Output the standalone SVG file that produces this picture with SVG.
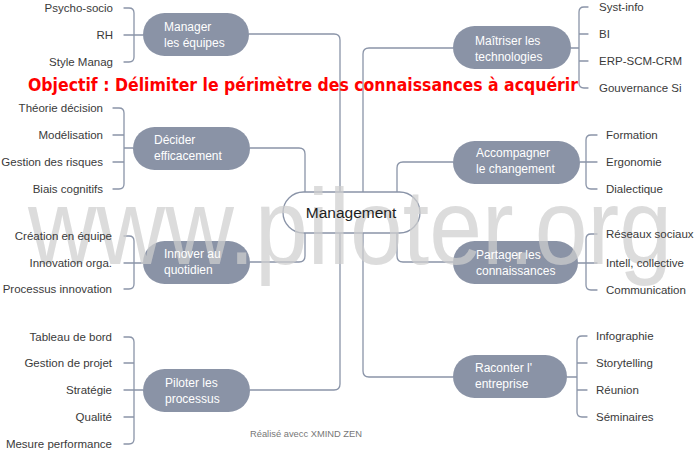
<svg xmlns="http://www.w3.org/2000/svg" width="700" height="453" viewBox="0 0 700 453">
<style>
.bg{fill:#ffffff}
.con{fill:none;stroke:#8a94a8;stroke-width:1.3;stroke-linecap:round}
.topic{fill:#8a93a6}
.tt{fill:#ffffff;font-family:"Liberation Sans",Arial,sans-serif;font-size:12px}
.sub{fill:#3a3a3a;font-family:"Liberation Sans",Arial,sans-serif;font-size:11.5px}
.r{text-anchor:end}
.center{fill:#ffffff;stroke:#8a94a8;stroke-width:1.3}
.ct{fill:#1e1e1e;font-family:"Liberation Sans",Arial,sans-serif;font-size:15.5px;text-anchor:middle}
.wm{fill:#cfcfcf;opacity:0.72;font-family:"Liberation Sans",Arial,sans-serif;font-size:107px}
.title{fill:#ff0000;font-family:"Comic Sans MS","DejaVu Sans",sans-serif;font-weight:bold;font-size:18px}
.foot{fill:#777777;font-family:"Liberation Sans",Arial,sans-serif;font-size:9px}
</style>
<rect class="bg" x="0" y="0" width="700" height="453"/>
<g id="connectors">
<path class="con" d="M249,34 H334 Q340,34 340,40 V192"/>
<path class="con" d="M250,148 H299 Q305,148 305,154 V192"/>
<path class="con" d="M250,262 H299 Q305,262 305,256 V233"/>
<path class="con" d="M250,390 H334 Q340,390 340,384 V233"/>
<path class="con" d="M453,48 H369 Q363,48 363,54 V192"/>
<path class="con" d="M453,162 H403 Q397,162 397,168 V192"/>
<path class="con" d="M453,262 H403 Q397,262 397,256 V233"/>
<path class="con" d="M453,377 H369 Q363,377 363,371 V233"/>
<path class="con" d="M124,8 H129 Q134,8 134,13 V57 Q134,62 129,62 H124 M124,35 H143"/>
<path class="con" d="M113,108 H119 Q124,108 124,113 V184 Q124,189 119,189 H113 M113,135 H124 M113,162 H124 M124,148 H133"/>
<path class="con" d="M124,236 H129 Q134,236 134,241 V284 Q134,289 129,289 H124 M124,263 H143"/>
<path class="con" d="M124,337 H129 Q134,337 134,342 V439 Q134,444 129,444 H124 M124,363 H134 M124,390 H143 M124,417 H134"/>
<path class="con" d="M588,7 H584 Q579,7 579,12 V83 Q579,88 584,88 H588 M579,34 H588 M579,61 H588 M571,48 H579"/>
<path class="con" d="M597,135 H591 Q586,135 586,140 V184 Q586,189 591,189 H597 M580,162 H597"/>
<path class="con" d="M597,234 H591 Q586,234 586,239 V285 Q586,290 591,290 H597 M578,263 H597"/>
<path class="con" d="M587,336 H582 Q577,336 577,341 V412 Q577,417 582,417 H587 M577,363 H587 M577,390 H587 M567,377 H577"/>
</g>
<g id="management">
<rect class="center" x="283" y="192" width="137" height="41" rx="20.5"/>
</g>
<g id="manager">
<rect class="topic" x="143" y="13" width="106" height="43" rx="21.5"/>
</g>
<g id="decider">
<rect class="topic" x="133" y="127" width="117" height="43" rx="21.5"/>
</g>
<g id="innover">
<rect class="topic" x="143" y="241" width="107" height="43" rx="21.5"/>
</g>
<g id="piloter">
<rect class="topic" x="143" y="369" width="107" height="43" rx="21.5"/>
</g>
<g id="maitriser">
<rect class="topic" x="453" y="26" width="118" height="43" rx="21.5"/>
</g>
<g id="accompagner">
<rect class="topic" x="453" y="141" width="127" height="43" rx="21.5"/>
</g>
<g id="partager">
<rect class="topic" x="453" y="241" width="125" height="43" rx="21.5"/>
</g>
<g id="raconter">
<rect class="topic" x="453" y="355" width="114" height="43" rx="21.5"/>
</g>
<text class="wm" x="28" y="264" textLength="644" lengthAdjust="spacingAndGlyphs">www.piloter.org</text>
<g id="labels">
<text class="ct" x="351" y="218">Management</text>
<text class="tt" x="164" y="31">Manager</text>
<text class="tt" x="164" y="47">les équipes</text>
<text class="tt" x="154" y="144">Décider</text>
<text class="tt" x="154" y="160">efficacement</text>
<text class="tt" x="164" y="258">Innover au</text>
<text class="tt" x="164" y="274">quotidien</text>
<text class="tt" x="165" y="387">Piloter les</text>
<text class="tt" x="165" y="403">processus</text>
<text class="tt" x="475" y="45">Maîtriser les</text>
<text class="tt" x="475" y="61">technologies</text>
<text class="tt" x="476" y="157">Accompagner</text>
<text class="tt" x="476" y="173">le changement</text>
<text class="tt" x="476" y="259">Partager les</text>
<text class="tt" x="476" y="275">connaissances</text>
<text class="tt" x="475" y="372">Raconter l'</text>
<text class="tt" x="475" y="388">entreprise</text>
</g>
<g id="subtopics">
<text class="sub r" x="113" y="12">Psycho-socio</text>
<text class="sub r" x="113" y="39">RH</text>
<text class="sub r" x="113" y="66">Style Manag</text>
<text class="sub r" x="103" y="112">Théorie décision</text>
<text class="sub r" x="103" y="139">Modélisation</text>
<text class="sub r" x="103" y="166">Gestion des risques</text>
<text class="sub r" x="103" y="193">Biais cognitifs</text>
<text class="sub r" x="112" y="240">Création en équipe</text>
<text class="sub r" x="112" y="267">Innovation orga.</text>
<text class="sub r" x="112" y="293">Processus innovation</text>
<text class="sub r" x="112" y="341">Tableau de bord</text>
<text class="sub r" x="112" y="367">Gestion de projet</text>
<text class="sub r" x="112" y="394">Stratégie</text>
<text class="sub r" x="112" y="421">Qualité</text>
<text class="sub r" x="112" y="448">Mesure performance</text>
<text class="sub" x="599" y="11">Syst-info</text>
<text class="sub" x="599" y="38">BI</text>
<text class="sub" x="599" y="65">ERP-SCM-CRM</text>
<text class="sub" x="599" y="92">Gouvernance Si</text>
<text class="sub" x="606" y="139">Formation</text>
<text class="sub" x="606" y="166">Ergonomie</text>
<text class="sub" x="606" y="193">Dialectique</text>
<text class="sub" x="606" y="238">Réseaux sociaux</text>
<text class="sub" x="606" y="267">Intell, collective</text>
<text class="sub" x="606" y="294">Communication</text>
<text class="sub" x="596" y="340">Infographie</text>
<text class="sub" x="596" y="367">Storytelling</text>
<text class="sub" x="596" y="394">Réunion</text>
<text class="sub" x="596" y="421">Séminaires</text>
</g>
<text class="title" x="28" y="91" textLength="550" lengthAdjust="spacingAndGlyphs">Objectif : Délimiter le périmètre des connaissances à acquérir</text>
<text class="foot" x="250" y="437" textLength="112" lengthAdjust="spacingAndGlyphs">Réalisé avecc XMIND ZEN</text>
</svg>
